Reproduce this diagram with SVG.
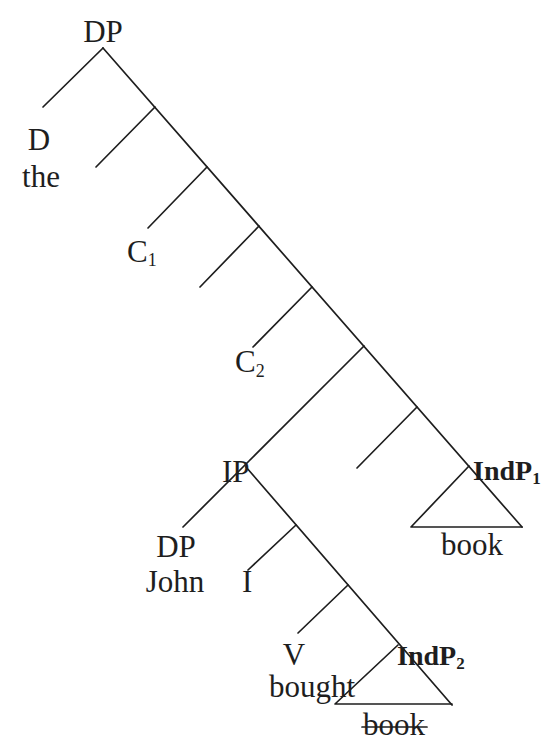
<svg xmlns="http://www.w3.org/2000/svg" width="553" height="744" viewBox="0 0 553 744">
<style>
.ln{stroke:#1e1e1e;stroke-width:1.7;fill:none;stroke-linecap:round;stroke-linejoin:round}
text{font-family:"Liberation Serif","Times New Roman",serif;fill:#1e1e1e;font-size:31px}
.b{font-weight:bold;font-size:28px}
.s{font-size:18px}
.sb{font-size:17px;font-weight:bold}
</style>
<rect width="553" height="744" fill="#ffffff"/>
<g id="connectors">
<line class="ln" x1="103" y1="48" x2="522" y2="527"/>
<line class="ln" x1="103" y1="48" x2="43" y2="107"/>
<line class="ln" x1="155" y1="107" x2="96" y2="167"/>
<line class="ln" x1="207" y1="167" x2="148" y2="228"/>
<line class="ln" x1="259" y1="226" x2="200" y2="287"/>
<line class="ln" x1="312" y1="287" x2="253" y2="347"/>
<line class="ln" x1="364" y1="346" x2="246" y2="464"/>
<line class="ln" x1="417" y1="407" x2="357" y2="468"/>
<line class="ln" x1="246" y1="464" x2="183" y2="527"/>
<line class="ln" x1="246" y1="467" x2="452" y2="705"/>
<line class="ln" x1="296" y1="525" x2="248" y2="570"/>
<line class="ln" x1="348" y1="585" x2="298" y2="633"/>
</g>
<g id="n-dp-top"><text x="103" y="42" text-anchor="middle">DP</text></g>
<g id="n-d"><text x="39" y="150" text-anchor="middle">D</text><text x="41" y="187" text-anchor="middle">the</text></g>
<g id="n-c1"><text x="127" y="262">C<tspan class="s" dy="4">1</tspan></text></g>
<g id="n-c2"><text x="235" y="372">C<tspan class="s" dy="5">2</tspan></text></g>
<g id="n-ip"><text x="222" y="482">IP</text></g>
<g id="n-dp-john"><text x="176" y="557" text-anchor="middle">DP</text><text x="175" y="592" text-anchor="middle">John</text></g>
<g id="n-i"><text x="242" y="592">I</text></g>
<g id="n-v"><text x="294" y="665" text-anchor="middle">V</text><text x="312" y="697" text-anchor="middle">bought</text></g>
<g id="n-indp1">
<polyline class="ln" points="469,466 411,527 522,527"/>
<text class="b" x="473" y="480">IndP<tspan class="sb" dy="4">1</tspan></text>
<text x="472" y="555" text-anchor="middle">book</text>
</g>
<g id="n-indp2">
<polyline class="ln" points="398,645 335,704 452,704"/>
<text class="b" x="397" y="665">IndP<tspan class="sb" dy="4">2</tspan></text>
<text x="394" y="735" text-anchor="middle">book</text>
<line class="ln" x1="362" y1="727" x2="427" y2="727"/>
</g>
</svg>
